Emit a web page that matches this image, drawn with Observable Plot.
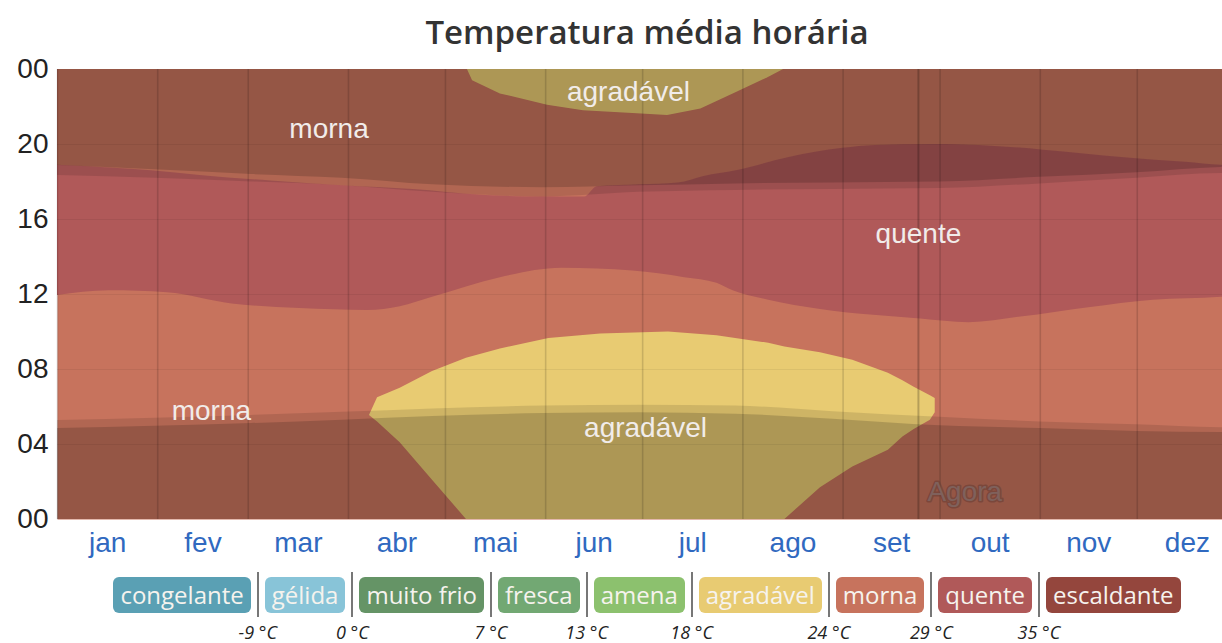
<!DOCTYPE html>
<html><head><meta charset="utf-8">
<script src="https://cdn.jsdelivr.net/npm/d3@7"></script>
<script src="https://cdn.jsdelivr.net/npm/@observablehq/plot@0.6"></script>
<style>
html,body{margin:0;padding:0;background:#fff;overflow:hidden;width:1222px;height:643px;}
#wrap{position:relative;width:1222px;height:643px;overflow:hidden;}
#title{position:absolute;left:0;top:10px;width:1294px;text-align:center;font-family:"Open Sans",sans-serif;font-weight:600;font-size:33px;color:#333;line-height:44px;white-space:nowrap;}
#chart{position:absolute;left:0;top:40px;}
#legend{position:absolute;left:0;top:572px;width:1294px;display:flex;justify-content:center;align-items:flex-start;}
.box{height:36px;line-height:35px;margin-top:5px;padding:0 7px;border-radius:6px;font-family:"Open Sans",sans-serif;font-size:24px;color:#f6f3ee;white-space:nowrap;}
.sep{position:relative;width:2px;height:45px;background:#777;margin:0 6px;}
.sep span{position:absolute;top:50px;left:50%;transform:translateX(-50%);font-family:"Open Sans",sans-serif;font-style:italic;font-size:18px;color:#222;white-space:nowrap;line-height:20px;}
</style></head>
<body><div id="wrap"><div id="title">Temperatura média horária</div><div id="chart"></div><div id="legend"></div></div>
<script>
// legend categories and thresholds
const categories = ["congelante","gélida","muito frio","fresca","amena","agradável","morna","quente","escaldante"];
const categoryColors = ["#5aa0b4","#88c4d8","#659466","#72a873","#8cc16e","#e8cb72","#c7735d","#b05959","#94463d"];
const thresholdLabels = ["-9 °C","0 °C","7 °C","13 °C","18 °C","24 °C","29 °C","35 °C"];
// x axis
const monthNames = ["jan","fev","mar","abr","mai","jun","jul","ago","set","out","nov","dez"];
const monthStarts = [0,31,59,90,120,151,181,212,243,273,304,334,365];
const hourTicks = [0,4,8,12,16,20,24];
// quente starts (hour) through the day
const quenteStartDay = [0,16,34,54,75,96,106,116,137,156,178,194,204,209,220,236,267,282,298,319,339,360,365];
const quenteStartHour = [11.95,12.2,12.1,11.5,11.25,11.15,11.35,11.85,12.9,13.4,13.25,12.9,12.6,12.2,11.7,11.2,10.7,10.5,10.8,11.3,11.7,11.85,11.95];
// quente ends (hour), morna again after
const quenteEndDay = [0,16,29,44,66,88,110,131,150,163,167,180,192,200,210,226,243,253,270,290,305,330,349,360,365];
const quenteEndHour = [18.9,18.75,18.6,18.35,18.05,17.8,17.6,17.3,17.2,17.2,17.75,17.85,17.95,18.3,18.6,19.3,19.8,19.95,20.0,19.9,19.7,19.3,19.05,18.9,18.9];
// agradável in the early morning
const agrMorningDay = [96.5,99,106,116,126.5,137,152,168,189,204,220,225,236,246,257,261.5,265,270,271.5];
const agrMorningFrom = [5.55,5.2,4.1,2.1,0,0,0,0,0,0,0,0,1.7,2.8,3.7,4.4,4.8,5.3,5.7];
const agrMorningTo = [5.55,6.5,7.0,7.9,8.6,9.1,9.65,9.9,10.0,9.8,9.4,9.2,8.9,8.5,7.8,7.4,7.05,6.6,6.45];
// agradável late evening (until midnight)
const agrEveningDay = [126.8,128.4,137,151.6,162.7,178,188.7,199,209,219.6,224.6];
const agrEveningFrom = [24,23.4,22.7,22.1,21.8,21.65,21.55,21.9,22.7,23.55,24];
// daylight
const sunDay = [0,30,60,88,116,150,180,210,240,273,304,334,360,365];
const dawnHour = [4.85,4.97,5.12,5.3,5.5,5.65,5.7,5.62,5.35,5.0,4.85,4.7,4.64,4.64];
const sunriseHour = [5.28,5.4,5.55,5.72,5.9,6.05,6.1,6.05,5.75,5.45,5.2,5.05,4.9,4.9];
const sunsetHour = [18.35,18.2,18.0,17.8,17.45,17.2,17.45,17.55,17.6,17.65,17.9,18.2,18.45,18.45];
const duskHour = [18.88,18.65,18.4,18.2,17.85,17.7,17.8,17.9,17.95,18.0,18.25,18.5,18.78,18.8];
// labels
const labelText = ["morna","agradável","quente","morna","agradável"];
const labelDay = [84,176.6,266.3,47.6,181.9];
const labelHour = [20.85,22.8,15.25,5.8,4.9];
const nowDay = 266.3;
const nowLabel = "Agora";

const color = Object.fromEntries(categories.map((c,i)=>[c,categoryColors[i]]));
const rows = (days, a, b) => days.map((d,i)=>({d, a:a[i], b: b ? b[i] : undefined}));
const monthMids = monthNames.map((_,i)=>(monthStarts[i]+monthStarts[i+1])/2);
const smooth = "monotone-x";
const FONT = "'Liberation Sans', Arial, sans-serif";

const chart = Plot.plot({
  width: 1222, height: 525,
  marginTop: 29, marginBottom: 46, marginLeft: 57, marginRight: 0,
  x: {domain: [0,365], range: [57,1237]},
  y: {domain: [0,24]},
  style: {fontFamily: FONT, fontSize: "28px", background: "transparent"},
  marks: [
    Plot.frame({fill: color["morna"]}),
    Plot.areaY(rows(quenteStartDay, quenteStartHour), {x:"d", y1:"a", y2:24, fill: color["quente"], curve: smooth}),
    Plot.areaY(rows(quenteEndDay, quenteEndHour), {x:"d", y1:"a", y2:24, fill: color["morna"], curve: smooth}),
    Plot.areaY(rows(agrMorningDay, agrMorningFrom, agrMorningTo), {x:"d", y1:"a", y2:"b", fill: color["agradável"], curve: "linear"}),
    Plot.areaY(rows(agrEveningDay, agrEveningFrom), {x:"d", y1:"a", y2:24, fill: color["agradável"], curve: "linear"}),
    // twilight + night shading
    Plot.areaY(rows(sunDay, sunriseHour), {x:"d", y1:0, y2:"a", fill:"#000", fillOpacity:0.11, curve: smooth}),
    Plot.areaY(rows(sunDay, dawnHour), {x:"d", y1:0, y2:"a", fill:"#000", fillOpacity:0.157, curve: smooth}),
    Plot.areaY(rows(sunDay, sunsetHour), {x:"d", y1:"a", y2:24, fill:"#000", fillOpacity:0.11, curve: smooth}),
    Plot.areaY(rows(sunDay, duskHour), {x:"d", y1:"a", y2:24, fill:"#000", fillOpacity:0.157, curve: smooth}),
    Plot.ruleY(hourTicks.slice(1,-1), {stroke:"#000", strokeOpacity:0.06, strokeWidth:1}),
    Plot.ruleX(monthStarts, {stroke:"#000", strokeOpacity:0.14, strokeWidth:1.6}),
    Plot.ruleX([nowDay], {stroke:"#000", strokeOpacity:0.22, strokeWidth:2}),
    Plot.text([nowLabel], {x: nowDay, y: 1.45, text: d=>d, dx: 9, textAnchor:"start", fontSize: 28, fill:"#7f615c", stroke:"#6a3e35", strokeWidth: 3, strokeOpacity: 0.6, paintOrder:"stroke"}),
    Plot.text(labelText, {x:(d,i)=>labelDay[i], y:(d,i)=>labelHour[i], text:d=>d, fontSize: 28, fill:"#f1ecea"}),
    Plot.axisY({ticks: hourTicks, tickFormat: d=>String(d%24).padStart(2,"0"), tickSize:0, tickPadding:9, fontSize: 28, color:"#222", label:null}),
    Plot.axisX({ticks: monthMids, tickFormat: d=>monthNames[monthMids.indexOf(d)], tickSize:0, tickPadding:13, fontSize: 28, color:"#3069c0", label:null})
  ]
});
document.getElementById("chart").appendChild(chart);

const legend = document.getElementById("legend");
categories.forEach((c,i)=>{
  const b = document.createElement("div");
  b.className = "box"; b.textContent = c; b.style.background = categoryColors[i];
  legend.appendChild(b);
  if (i < thresholdLabels.length) {
    const s = document.createElement("div"); s.className = "sep";
    const t = document.createElement("span"); t.textContent = thresholdLabels[i];
    s.appendChild(t); legend.appendChild(s);
  }
});
</script></body></html>
